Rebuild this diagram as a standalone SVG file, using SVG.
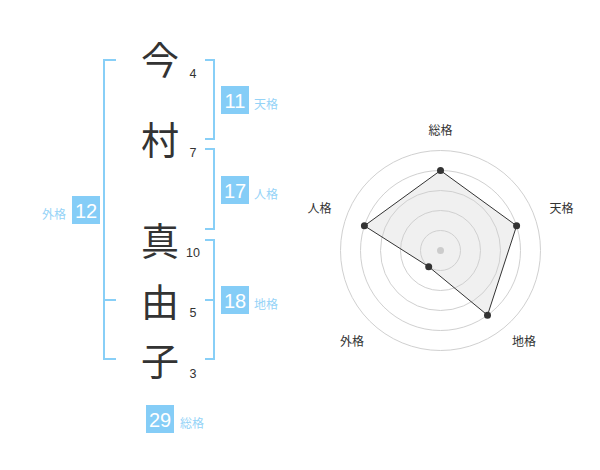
<svg xmlns="http://www.w3.org/2000/svg" width="600" height="470" viewBox="0 0 600 470">
<style>
.ch{font-family:"Noto Sans CJK JP","Noto Sans CJK SC",sans-serif;font-size:38px;fill:#333;text-anchor:middle}
.st{font-family:"Liberation Sans",Arial,sans-serif;font-size:12.5px;fill:#333;text-anchor:middle}
.br{fill:none;stroke:#88cff7;stroke-width:2}
.bx{fill:#85cdf7}
.bn{font-family:"Liberation Sans",Arial,sans-serif;font-size:20px;fill:#fff;text-anchor:middle}
.lb{font-family:"Noto Sans CJK JP","Noto Sans CJK SC",sans-serif;font-size:12px;fill:#95d3f7}
.rl{font-family:"Noto Sans CJK JP","Noto Sans CJK SC",sans-serif;font-size:12px;fill:#333;text-anchor:middle}
.ring{fill:none;stroke:#d0d0d0;stroke-width:1}
.pt{fill:#333}
</style>
<rect width="600" height="470" fill="#fff"/>
<g id="chars">
<text class="ch" x="160" y="74">今</text>
<text class="ch" x="160" y="154">村</text>
<text class="ch" x="160" y="255">真</text>
<text class="ch" x="160" y="316">由</text>
<text class="ch" x="160" y="375">子</text>
</g>
<g id="strokes">
<text class="st" x="193" y="77.8">4</text>
<text class="st" x="193" y="157.2">7</text>
<text class="st" x="193" y="257.2">10</text>
<text class="st" x="193" y="317.2">5</text>
<text class="st" x="193" y="377.8">3</text>
</g>
<g id="connectors">
<path class="br" d="M116,60 H104 V359 H116 M104,300 H116"/>
<path class="br" d="M205,60 H214 V139 H205"/>
<path class="br" d="M205,149 H214 V229 H205"/>
<path class="br" d="M205,240 H214 V359 H205 M205,300 H214"/>
</g>
<g id="tenkaku">
<rect class="bx" x="221" y="86" width="28" height="28"/>
<text class="bn" x="235" y="108">11</text>
<text class="lb" x="254" y="108.5">天格</text>
</g>
<g id="jinkaku">
<rect class="bx" x="221" y="176" width="28" height="28"/>
<text class="bn" x="235" y="198">17</text>
<text class="lb" x="254" y="198.5">人格</text>
</g>
<g id="chikaku">
<rect class="bx" x="221" y="286" width="28" height="28"/>
<text class="bn" x="235" y="308">18</text>
<text class="lb" x="254" y="308.5">地格</text>
</g>
<g id="gaikaku">
<rect class="bx" x="72" y="196" width="28" height="28"/>
<text class="bn" x="86" y="218">12</text>
<text class="lb" x="66" y="218.5" text-anchor="end">外格</text>
</g>
<g id="soukaku">
<rect class="bx" x="146" y="405" width="28" height="28"/>
<text class="bn" x="160" y="427">29</text>
<text class="lb" x="180" y="427.5">総格</text>
</g>
<g id="radar">
<polygon points="440.5,170.5 516.6,225.8 487.5,315.2 428.7,266.7 364.4,225.8" fill="#f0f0f0"/>
<circle class="ring" cx="440.5" cy="250.5" r="20"/>
<circle class="ring" cx="440.5" cy="250.5" r="40"/>
<circle class="ring" cx="440.5" cy="250.5" r="60"/>
<circle class="ring" cx="440.5" cy="250.5" r="80"/>
<circle class="ring" cx="440.5" cy="250.5" r="100"/>
<circle cx="440.5" cy="250.5" r="3.5" fill="#ccc"/>
<polygon points="440.5,170.5 516.6,225.8 487.5,315.2 428.7,266.7 364.4,225.8" fill="none" stroke="#333" stroke-width="1"/>
<circle class="pt" cx="440.5" cy="170.5" r="3.5"/>
<circle class="pt" cx="516.6" cy="225.8" r="3.5"/>
<circle class="pt" cx="487.5" cy="315.2" r="3.5"/>
<circle class="pt" cx="428.7" cy="266.7" r="3.5"/>
<circle class="pt" cx="364.4" cy="225.8" r="3.5"/>
<text class="rl" x="440.5" y="134.5">総格</text>
<text class="rl" x="561.5" y="212.8">天格</text>
<text class="rl" x="319.5" y="212.8">人格</text>
<text class="rl" x="524" y="346.2">地格</text>
<text class="rl" x="352" y="346.2">外格</text>
</g>
</svg>
